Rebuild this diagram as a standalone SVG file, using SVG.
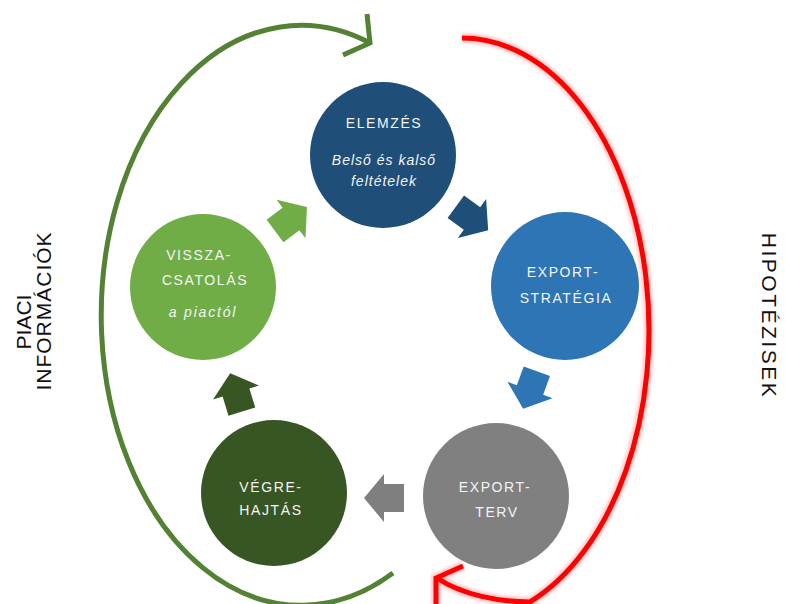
<svg xmlns="http://www.w3.org/2000/svg" width="785" height="604" viewBox="0 0 785 604">
<defs>
<style>
.lbl{font-family:"Liberation Sans",Arial,sans-serif;fill:#f4f4f4;font-size:14px;letter-spacing:1.6px;text-anchor:middle}
.sub{font-family:"Liberation Sans",Arial,sans-serif;fill:#f4f4f4;font-size:14px;font-style:italic;letter-spacing:1px;text-anchor:middle}
.side{font-family:"Liberation Sans",Arial,sans-serif;fill:#111;font-size:21px;text-anchor:middle}
.g{fill:none;stroke:#548235;stroke-width:5;stroke-linecap:butt}
.rglow{fill:none;stroke:#ff9a9a;stroke-width:10;stroke-opacity:0.55}
.r{fill:none;stroke:#ff0000;stroke-width:5}
</style>
<path id="blk" d="M-20,-14 L0,-14 L0,-24 L20,0 L0,24 L0,14 L-20,14 Z"/>
<filter id="soft" x="-20%" y="-20%" width="140%" height="140%"><feGaussianBlur stdDeviation="1.5"/></filter>
</defs>
<rect width="785" height="604" fill="#ffffff"/>

<g id="connectors">
  <!-- green feedback arc (left) -->
  <path class="g" d="M393,573 A200 290 0 1 1 370,43"/>
  <polyline class="g" points="367,14 370,43 343,55"/>
  <!-- red hypothesis arc (right) -->
  <g>
    <path class="rglow" filter="url(#soft)" d="M462,38 A187 292 0 0 1 530,602 C500,602 462,595 437,578"/>
    <polyline class="rglow" filter="url(#soft)" points="463,566 436,578 436,604"/>
    <path class="r" d="M462,38 A187 292 0 0 1 530,602 C500,602 462,595 437,578"/>
    <polyline class="r" points="463,566 436,578 436,604"/>
  </g>
  <!-- block arrows between steps -->
  <use href="#blk" fill="#1f4e79" transform="translate(472,218.5) rotate(36)"/>
  <use href="#blk" fill="#2e75b6" transform="translate(530,390) rotate(110)"/>
  <use href="#blk" fill="#7f7f7f" transform="translate(384,498) rotate(180)"/>
  <use href="#blk" fill="#375623" transform="translate(236,392.5) rotate(-107)"/>
  <use href="#blk" fill="#70ad47" transform="translate(291,219) rotate(-37)"/>
</g>

<g id="elemzes">
  <circle cx="383" cy="155" r="73" fill="#1f4e79"/>
  <text class="lbl" x="384" y="128">ELEMZÉS</text>
  <text class="sub" x="384" y="165">Belső és kalső</text>
  <text class="sub" x="384" y="186">feltételek</text>
</g>

<g id="strategia">
  <circle cx="565" cy="286" r="74" fill="#2e75b6"/>
  <text class="lbl" x="563" y="277">EXPORT-</text>
  <text class="lbl" x="566" y="303">STRATÉGIA</text>
</g>

<g id="terv">
  <circle cx="496" cy="496" r="73" fill="#808080"/>
  <text class="lbl" x="495" y="492">EXPORT-</text>
  <text class="lbl" x="497" y="517">TERV</text>
</g>

<g id="vegrehajtas">
  <circle cx="274" cy="493" r="73" fill="#375623"/>
  <text class="lbl" x="271" y="492">VÉGRE-</text>
  <text class="lbl" x="271" y="515">HAJTÁS</text>
</g>

<g id="visszacsatolas">
  <circle cx="203" cy="287" r="73" fill="#70ad47"/>
  <text class="lbl" x="199" y="260">VISSZA-</text>
  <text class="lbl" x="205" y="285">CSATOLÁS</text>
  <text class="sub" x="203" y="317" style="letter-spacing:1.8px">a piactól</text>
</g>

<g id="piaci-informaciok">
  <text class="side" transform="translate(31,322) rotate(-90)">PIACI</text>
  <text class="side" transform="translate(51,311) rotate(-90)" style="letter-spacing:1px">INFORMÁCIÓK</text>
</g>

<g id="hipotezisek">
  <text class="side" transform="translate(762,316) rotate(90)" style="letter-spacing:2.5px">HIPOTÉZISEK</text>
</g>
</svg>
